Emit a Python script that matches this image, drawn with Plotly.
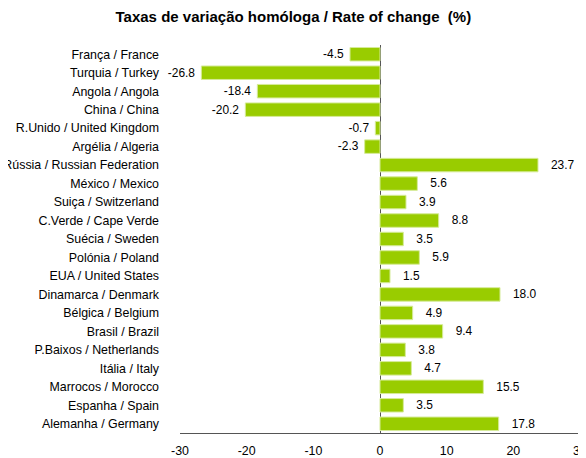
import plotly.graph_objects as go

categories = [
    "França / France", "Turquia / Turkey", "Angola / Angola", "China / China",
    "R.Unido / United Kingdom", "Argélia / Algeria", "Rússia / Russian Federation",
    "México / Mexico", "Suiça / Switzerland", "C.Verde / Cape Verde",
    "Suécia / Sweden", "Polónia / Poland", "EUA / United States",
    "Dinamarca / Denmark", "Bélgica / Belgium", "Brasil / Brazil",
    "P.Baixos / Netherlands", "Itália / Italy", "Marrocos / Morocco",
    "Espanha / Spain", "Alemanha / Germany",
]
values = [-4.5, -26.8, -18.4, -20.2, -0.7, -2.3, 23.7, 5.6, 3.9, 8.8, 3.5,
          5.9, 1.5, 18.0, 4.9, 9.4, 3.8, 4.7, 15.5, 3.5, 17.8]
tick_values = [-30, -20, -10, 0, 10, 20, 30]
tick_labels = ["-30", "-20", "-10", "0", "10", "20", "30"]

labels = [("   " + f"{v:.1f}") if v >= 0 else (f"{v:.1f}" + " ") for v in values]

FONT = "Liberation Sans, Arial"
FS = 12.4

fig = go.Figure(go.Bar(
    x=values, y=categories, orientation="h",
    marker=dict(color="#99CC00", line=dict(color="#D6EB99", width=1)),
    text=labels, textposition="outside", cliponaxis=False,
    textfont=dict(family=FONT, size=FS, color="#000"),
))

fig.update_layout(
    width=586, height=458,
    margin=dict(l=172, r=14, t=37, b=33),
    paper_bgcolor="white", plot_bgcolor="white",
    bargap=0.27,
    showlegend=False,
    font=dict(family=FONT, size=FS, color="#000"),
    title=dict(text="<b>Taxas de variação homóloga / Rate of change  (%)</b>",
               x=0.487, xanchor="center", y=0.98, yanchor="middle",
               font=dict(size=15, color="#000")),
    xaxis=dict(range=[-30, 30], tickvals=tick_values, ticktext=tick_labels,
               showgrid=False,
               zeroline=True, zerolinecolor="#555555", zerolinewidth=1,
               showline=True, linecolor="#555555", linewidth=1,
               ticks="", ticklabelstandoff=6, tickfont=dict(size=FS),
               automargin=False),
    yaxis=dict(autorange="reversed", showgrid=False, zeroline=False,
               showline=False, ticks="", ticklabelstandoff=20,
               tickfont=dict(size=FS), automargin=False),
)

fig.write_html("out.html")
